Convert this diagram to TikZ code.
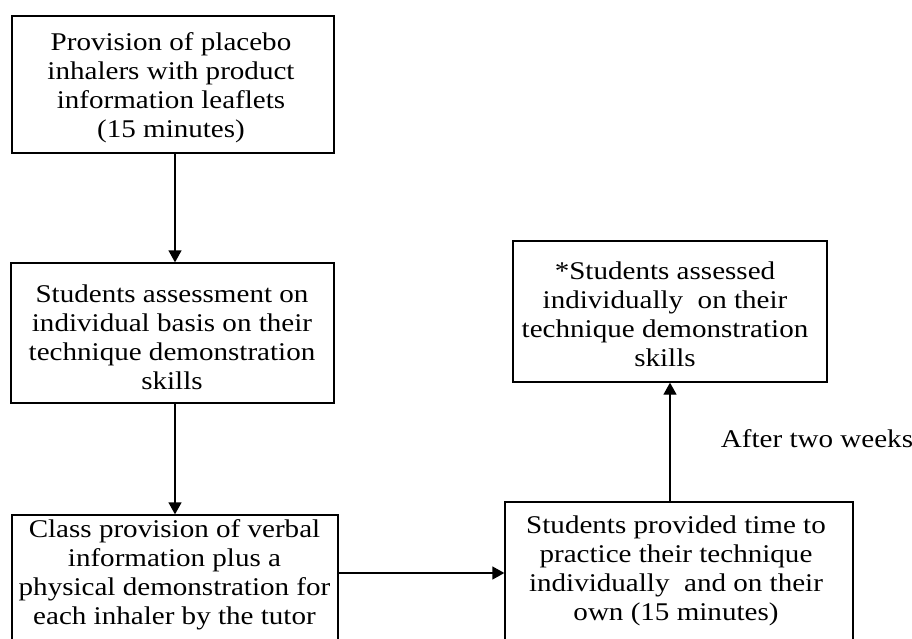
\documentclass[tikz,border=0pt]{standalone}
\usepackage{fontspec}
\setmainfont{Liberation Serif}[FakeStretch=1.14]
\usetikzlibrary{arrows.meta}
\tikzset{
  box/.style={draw=black, line width=1.3pt, rectangle, inner sep=0pt},
  txt/.style={align=center, inner sep=0pt, font=\fontsize{25.5}{29}\selectfont},
  arr/.style={line width=1.3pt, -{Triangle[length=12pt,width=13pt]}}
}
\begin{document}
\begin{tikzpicture}[x=1pt,y=-1pt]
\useasboundingbox (0,0) rectangle (912,639);
\clip (0,0) rectangle (912,639);
\fill[white] (0,0) rectangle (912,639);
% boxes
\node[box, minimum width=322pt, minimum height=137pt] (b1) at (173,84.5) {};
\node[box, minimum width=323pt, minimum height=140pt] (b2) at (172.5,333) {};
\node[box, minimum width=326pt, minimum height=145pt] (b3) at (175,587.5) {};
\node[box, minimum width=314pt, minimum height=141pt] (b4) at (670,311.5) {};
\node[box, minimum width=348pt, minimum height=158pt] (b5) at (679,581) {};
% texts
\node[txt] (t1) at (171,87.5) {Provision of placebo\\inhalers with product\\information leaflets\\(15 minutes)};
\node[txt] (t2) at (172,337.5) {Students assessment on\\individual basis on their\\technique demonstration\\skills};
\node[txt] (t3) at (174.5,574.5) {Class provision of verbal\\information plus a\\physical demonstration for\\each inhaler by the tutor};
\node[txt] (t4) at (665,314.5) {*Students assessed\\individually\ \ on their\\technique demonstration\\skills};
\node[txt] (t5) at (676,570.5) {Students provided time to\\practice their technique\\individually\ \ and on their\\own (15 minutes)};
% connectors
\coordinate (c1) at (175,0);
\coordinate (c2) at (0,573);
\draw[arr] (b1.south -| c1) -- (b2.north -| c1);
\draw[arr] (b2.south -| c1) -- (b3.north -| c1);
\draw[arr] (b3.east |- c2) -- (b5.west |- c2);
\draw[arr] (b4.south |- b5.north) -- (b4.south);
\node[txt, anchor=base] (lab) at (817,447) {After two weeks};
\end{tikzpicture}
\end{document}
